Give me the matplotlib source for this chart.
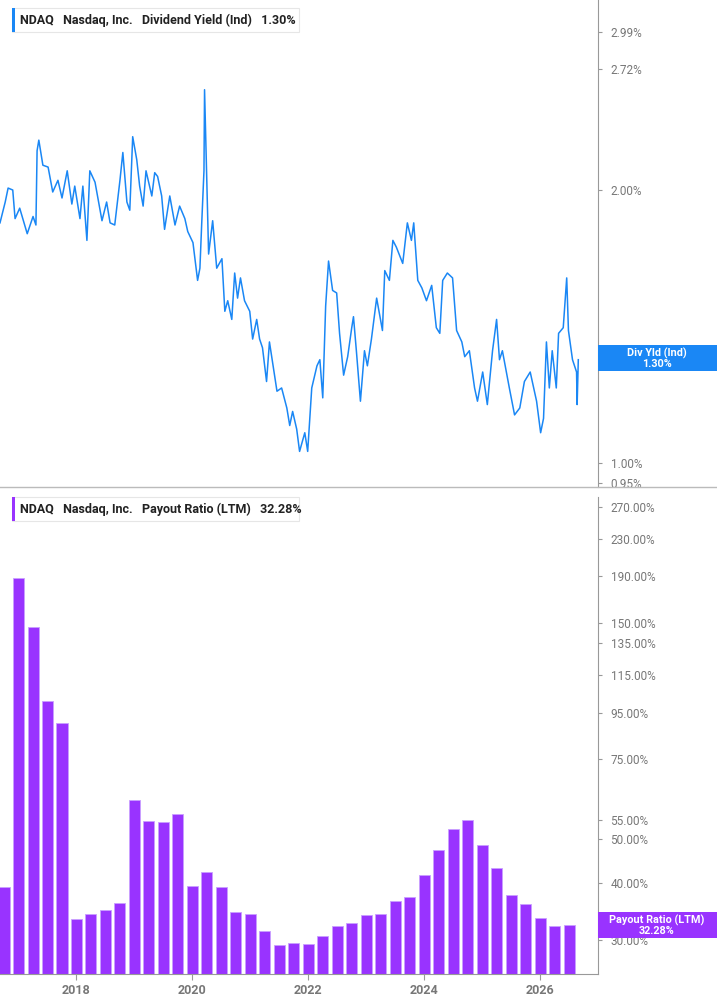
import numpy as np
import matplotlib.pyplot as plt
from matplotlib.ticker import FixedLocator, NullLocator
from matplotlib.patches import Rectangle

# Dividend yield (%), dates as decimal years
yld_dates = [16.68, 16.77, 16.82, 16.90, 16.94, 17.02, 17.15, 17.25, 17.30, 17.32, 17.35, 17.42,
             17.51, 17.59, 17.68, 17.75, 17.84, 17.92, 17.97, 18.06, 18.11, 18.18, 18.23, 18.32,
             18.44, 18.52, 18.58, 18.66, 18.75, 18.80, 18.87, 18.92, 18.97, 19.04, 19.09, 19.15,
             19.20, 19.30, 19.35, 19.40, 19.47, 19.52, 19.61, 19.70, 19.78, 19.87, 19.92, 20.01,
             20.09, 20.13, 20.16, 20.20, 20.21, 20.25, 20.28, 20.35, 20.42, 20.51, 20.56, 20.61,
             20.68, 20.73, 20.78, 20.83, 20.90, 20.99, 21.04, 21.11, 21.16, 21.21, 21.28, 21.33,
             21.46, 21.54, 21.63, 21.68, 21.73, 21.80, 21.85, 21.94, 21.99, 22.06, 22.15, 22.20,
             22.25, 22.30, 22.35, 22.42, 22.49, 22.54, 22.61, 22.68, 22.75, 22.78, 22.83, 22.90,
             22.97, 23.02, 23.09, 23.18, 23.28, 23.32, 23.40, 23.46, 23.52, 23.63, 23.71, 23.78,
             23.82, 23.89, 23.96, 24.04, 24.13, 24.21, 24.27, 24.32, 24.40, 24.49, 24.56, 24.65,
             24.70, 24.78, 24.87, 24.92, 25.01, 25.09, 25.18, 25.25, 25.30, 25.35, 25.47, 25.56,
             25.65, 25.73, 25.83, 25.94, 26.01, 26.06, 26.11, 26.16, 26.21, 26.28, 26.32, 26.40,
             26.46, 26.49, 26.56, 26.63, 26.64, 26.66]
yld_values = [1.84, 1.94, 2.01, 2.00, 1.86, 1.91, 1.79, 1.87, 1.83, 2.21, 2.27, 2.13,
              2.12, 1.99, 2.05, 1.96, 2.10, 1.93, 2.02, 1.86, 2.02, 1.76, 2.10, 2.04,
              1.85, 1.94, 1.84, 1.83, 2.05, 2.20, 1.94, 1.90, 2.29, 2.16, 2.02, 1.92,
              2.10, 1.97, 2.09, 2.07, 1.97, 1.81, 1.97, 1.83, 1.92, 1.86, 1.80, 1.75,
              1.59, 1.64, 1.83, 2.10, 2.58, 2.04, 1.70, 1.85, 1.64, 1.68, 1.47, 1.51,
              1.44, 1.62, 1.52, 1.60, 1.51, 1.47, 1.37, 1.44, 1.37, 1.34, 1.23, 1.36,
              1.20, 1.21, 1.15, 1.10, 1.14, 1.09, 1.03, 1.08, 1.03, 1.21, 1.28, 1.30,
              1.18, 1.49, 1.67, 1.55, 1.54, 1.39, 1.25, 1.31, 1.41, 1.45, 1.33, 1.17,
              1.33, 1.28, 1.37, 1.52, 1.40, 1.63, 1.59, 1.76, 1.73, 1.66, 1.84, 1.76,
              1.84, 1.59, 1.56, 1.51, 1.57, 1.41, 1.39, 1.59, 1.62, 1.60, 1.40, 1.36,
              1.31, 1.33, 1.21, 1.17, 1.26, 1.16, 1.33, 1.44, 1.30, 1.33, 1.21, 1.13,
              1.15, 1.23, 1.26, 1.17, 1.08, 1.12, 1.36, 1.21, 1.33, 1.21, 1.39, 1.41,
              1.60, 1.40, 1.30, 1.26, 1.16, 1.30]
yld_dates = [2000 + d for d in yld_dates]

# Payout ratio (LTM, %), quarterly
pay_dates = 2016.75 + 0.25 * np.arange(40)
pay_values = [39.1, 188, 147, 101, 90, 33.3, 34.2, 34.8, 36.2, 61.1,
              54.9, 54.6, 56.8, 39.3, 42.4, 39.2, 34.6, 34.2, 31.3, 29.2,
              29.5, 29.4, 30.5, 32.2, 32.7, 34.0, 34.2, 36.5, 37.3, 41.7,
              47.4, 52.7, 55.1, 48.4, 43.1, 37.7, 36.0, 33.5, 32.2, 32.28]

yld_ticks = [0.95, 1.00, 2.00, 2.72, 2.99]
pay_ticks = [30, 40, 50, 55, 75, 95, 115, 135, 150, 190, 230, 270]
year_ticks = [2018, 2020, 2022, 2024, 2026]

BLUE = '#1a87f5'
PURPLE = '#9933ff'
GRAY = '#777777'

plt.rcParams['font.family'] = ['Roboto', 'DejaVu Sans']

W, H = 717, 1005
fig = plt.figure(figsize=(W / 100, H / 100), dpi=100)
ax1 = fig.add_axes([0, 1 - 487 / H, 598 / W, 487 / H])
ax2 = fig.add_axes([0, 1 - 974 / H, 598 / W, (974 - 497) / H])

for ax in (ax1, ax2):
    ax.set_yscale('log')
    ax.set_xlim(2016.68, 2027.0)
    for s in ('left', 'top'):
        ax.spines[s].set_visible(False)
    ax.spines['right'].set_color('#999999')
    ax.spines['bottom'].set_color('#999999')
    ax.yaxis.tick_right()
    ax.yaxis.set_minor_locator(NullLocator())
    ax.tick_params(axis='y', colors='#999999', labelcolor=GRAY, labelsize=8.5, length=3, pad=6)

ax1.plot(yld_dates, yld_values, color=BLUE, lw=1.1)
ax1.set_ylim(0.941, 3.24)
ax1.yaxis.set_major_locator(FixedLocator(yld_ticks))
ax1.set_yticklabels([f'{v:.2f}%' for v in yld_ticks])
ax1.set_xticks([])
ax1.spines['bottom'].set_visible(False)

ax2.bar(pay_dates, pay_values, width=0.19, color=PURPLE, edgecolor='#c9a0ff', linewidth=0.6)
ax2.set_ylim(25.2, 284)
ax2.yaxis.set_major_locator(FixedLocator(pay_ticks))
ax2.set_yticklabels([f'{v:.2f}%' for v in pay_ticks])
ax2.set_xticks(year_ticks)
ax2.set_xticklabels([str(y) for y in year_ticks], fontweight='bold')
ax2.tick_params(axis='x', colors='#999999', labelcolor=GRAY, labelsize=9, length=4)

# separator between panels
fig.add_artist(plt.Line2D([0, 1], [1 - 487 / H, 1 - 487 / H], color='#bbbbbb', lw=1))


def legend_box(y_px, color, text, width_px):
    y = 1 - y_px / H
    fig.patches.append(Rectangle((12 / W, y - 12 / H), width_px / W, 24 / H, transform=fig.transFigure,
                                 facecolor='white', edgecolor='#e6e6e6', lw=0.8, zorder=5))
    fig.patches.append(Rectangle((12 / W, y - 12 / H), 3 / W, 24 / H, transform=fig.transFigure,
                                 facecolor=color, edgecolor='none', zorder=6))
    fig.text(20 / W, y, text, fontsize=9, fontweight='bold', color='#222222', va='center', zorder=7)


def value_box(y_px, color, label, value):
    y = 1 - y_px / H
    fig.patches.append(Rectangle((598 / W, y - 13 / H), 119 / W, 26 / H, transform=fig.transFigure,
                                 facecolor=color, edgecolor='none', zorder=5))
    fig.text(657 / W, y, f'{label}\n{value}', fontsize=7.8, fontweight='bold', color='white',
             ha='center', va='center', linespacing=1.0, zorder=6)


legend_box(20, BLUE, 'NDAQ   Nasdaq, Inc.   Dividend Yield (Ind)   1.30%', 287)
legend_box(509, PURPLE, 'NDAQ   Nasdaq, Inc.   Payout Ratio (LTM)   32.28%', 287)
value_box(358, BLUE, 'Div Yld (Ind)', '1.30%')
value_box(925, PURPLE, 'Payout Ratio (LTM)', '32.28%')

fig.savefig('out.png', dpi=100)
